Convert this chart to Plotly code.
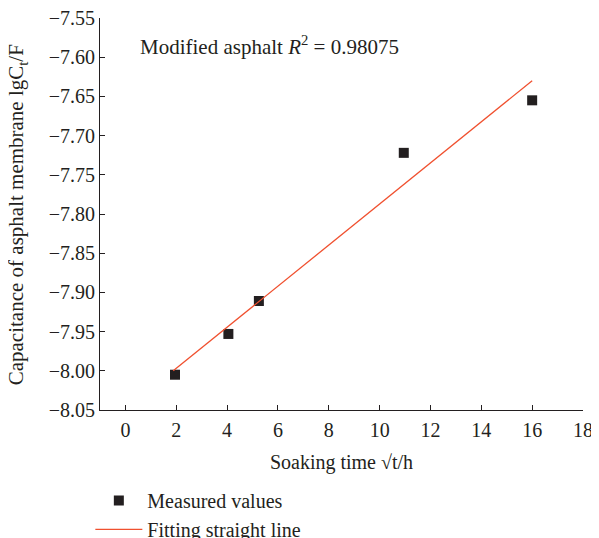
import plotly.graph_objects as go

# Data
soak_x = [1.95, 4.05, 5.25, 10.95, 16.0]
cap_y = [-8.005, -7.953, -7.911, -7.722, -7.655]
fit_x = [1.88, 16.0]
fit_y = [-8.0, -7.630]

x_ticks = [0, 2, 4, 6, 8, 10, 12, 14, 16, 18]
y_ticks = [-7.55, -7.60, -7.65, -7.70, -7.75, -7.80, -7.85, -7.90, -7.95, -8.00, -8.05]

FONT = "Liberation Serif"
INK = "#231f20"

fig = go.Figure()
fig.add_trace(go.Scatter(
    x=soak_x, y=cap_y, mode="markers", name="Measured values",
    marker=dict(symbol="square", size=10, color=INK),
))
fig.add_trace(go.Scatter(
    x=fit_x, y=fit_y, mode="lines", name="Fitting straight line",
    line=dict(color="#f0502f", width=1.3),
))

# page has an 8px body margin, so the figure is offset by (8, 8); the window crops the rest
fig.update_layout(
    width=599, height=546,
    margin=dict(l=92, r=24, t=10, b=144, autoexpand=False),
    paper_bgcolor="white", plot_bgcolor="white",
    font=dict(family=FONT, size=20, color=INK),
    showlegend=True,
    legend=dict(x=-0.020, y=-0.181, xanchor="left", yanchor="top",
                font=dict(family=FONT, size=20, color=INK),
                tracegroupgap=0, itemwidth=47, bgcolor="rgba(0,0,0,0)"),
    annotations=[
        dict(x=0.079, y=0.93, xref="paper", yref="paper", xanchor="left", yanchor="middle",
             text="Modified asphalt <i>R</i><sup>2</sup> = 0.98075", showarrow=False,
             font=dict(family=FONT, size=21, color=INK)),
        dict(x=-0.17, y=0.499, xref="paper", yref="paper", xanchor="center", yanchor="middle",
             textangle=-90, showarrow=False,
             text="Capacitance of asphalt membrane lgC<sub>t</sub>/F",
             font=dict(family=FONT, size=21, color=INK)),
    ],
)
fig.update_xaxes(
    range=[-1, 18], tickvals=x_ticks, ticktext=[str(v) for v in x_ticks],
    ticks="inside", ticklen=5, tickcolor=INK, showline=True, linecolor=INK,
    linewidth=1, showgrid=False, zeroline=False, mirror=False, automargin=False,
    title=dict(text="Soaking time √t/h", font=dict(family=FONT, size=20), standoff=14),
    tickfont=dict(family=FONT, size=20), ticklabelstandoff=2, ticklabeloverflow="allow",
)
fig.update_yaxes(
    range=[-8.05, -7.55], tickvals=y_ticks, tickformat=".2f",
    ticks="inside", ticklen=5, tickcolor=INK, showline=True, linecolor=INK,
    linewidth=1, showgrid=False, zeroline=False, mirror=False, automargin=False,
    tickfont=dict(family=FONT, size=20), ticklabeloverflow="allow",
)

fig.write_html("out.html")
